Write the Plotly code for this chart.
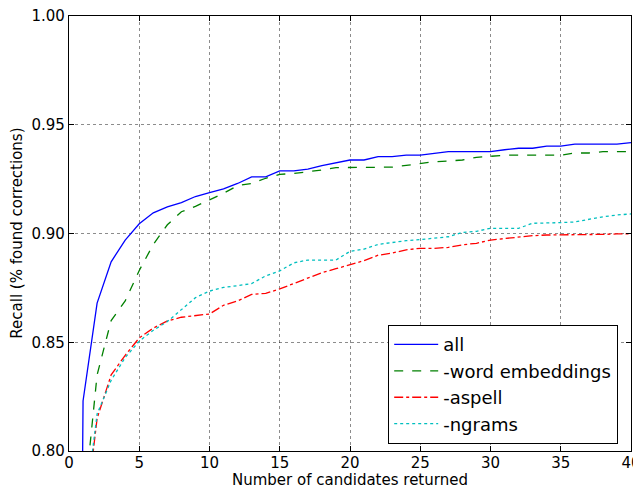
import plotly.graph_objects as go

candidates = list(range(0, 41))

recall_all = [0.0, 0.823, 0.868, 0.887, 0.897, 0.9045, 0.9095, 0.9122, 0.9142, 0.917,
              0.9188, 0.9205, 0.923, 0.926, 0.926, 0.9288, 0.9288, 0.9296, 0.9312, 0.9325,
              0.9338, 0.9338, 0.9353, 0.9353, 0.936, 0.936, 0.9368, 0.9376, 0.9376, 0.9376,
              0.9376, 0.9385, 0.9392, 0.9392, 0.9402, 0.9402, 0.9411, 0.9411, 0.9411, 0.9411,
              0.9418]

recall_no_word_emb = [0.0, 0.771, 0.835, 0.860, 0.869, 0.883, 0.895, 0.904, 0.910, 0.9125,
                      0.9155, 0.9185, 0.922, 0.923, 0.9254, 0.9272, 0.9276, 0.9283, 0.9292, 0.9303,
                      0.9303, 0.9303, 0.9303, 0.9305, 0.9313, 0.9322, 0.933, 0.9333, 0.9338, 0.935,
                      0.9355, 0.936, 0.936, 0.936, 0.936, 0.936, 0.937, 0.937, 0.9376, 0.9376,
                      0.9376]

recall_no_aspell = [0.0, 0.76, 0.815, 0.835, 0.844, 0.852, 0.8565, 0.8598, 0.8615, 0.8622,
                    0.863, 0.867, 0.869, 0.872, 0.8725, 0.8745, 0.877, 0.8795, 0.882, 0.8838,
                    0.8855, 0.8875, 0.89, 0.891, 0.8925, 0.8932, 0.8932, 0.8936, 0.8948, 0.8955,
                    0.897, 0.8976, 0.8985, 0.899, 0.8993, 0.8993, 0.8993, 0.8995, 0.8996, 0.8998,
                    0.8999]

recall_no_ngrams = [0.0, 0.765, 0.817, 0.8325, 0.843, 0.8505, 0.8555, 0.8595, 0.865, 0.8705,
                    0.8735, 0.8752, 0.876, 0.877, 0.8805, 0.8828, 0.8865, 0.8878, 0.8878, 0.8878,
                    0.8918, 0.8928, 0.895, 0.896, 0.8967, 0.8972, 0.898, 0.8985, 0.9005, 0.901,
                    0.9024, 0.9024, 0.9024, 0.9047, 0.9047, 0.905, 0.9053, 0.9065, 0.9077, 0.9085,
                    0.909]

series = [
    ("all", recall_all, "#0000ff", "solid"),
    ("-word embeddings", recall_no_word_emb, "#008000", "dash"),
    ("-aspell", recall_no_aspell, "#ff0000", "dashdot"),
    ("-ngrams", recall_no_ngrams, "#00bfbf", "dot"),
]

x_title = "Number of candidates returned"
y_title = "Recall (% found corrections)"

fig = go.Figure()
for name, vals, color, dash in series:
    fig.add_trace(go.Scatter(
        x=candidates, y=vals, mode="lines", name=name,
        line=dict(color=color, width=1.3, dash=dash),
    ))

axis_common = dict(
    showline=True, linecolor="black", linewidth=1.2, mirror="ticks",
    ticks="inside", ticklen=5, tickcolor="black", tickwidth=1,
    showgrid=True, gridcolor="rgba(0,0,0,0.45)", griddash="dot", gridwidth=1,
    zeroline=False, automargin=False, ticklabeloverflow="allow",
    tickfont=dict(family="DejaVu Sans", size=15, color="black"),
)

fig.update_xaxes(range=[0, 40], tickvals=[0, 5, 10, 15, 20, 25, 30, 35, 40],
                 ticklabelstandoff=-2, **axis_common)
fig.update_yaxes(range=[0.80, 1.00], tickvals=[0.80, 0.85, 0.90, 0.95, 1.00],
                 tickformat=".2f", **axis_common)

title_font = dict(family="DejaVu Sans", size=15, color="black")
fig.add_annotation(text=x_title, xref="paper", yref="paper", x=0.5, y=-0.0665,
                   xanchor="center", yanchor="middle", showarrow=False, font=title_font,
                   borderpad=0)
fig.add_annotation(text=y_title, xref="paper", yref="paper", x=-0.094, y=0.5,
                   xanchor="center", yanchor="middle", showarrow=False, textangle=-90,
                   font=title_font)

fig.update_layout(
    width=633, height=481,
    margin=dict(l=61, r=10, t=8, b=38),
    paper_bgcolor="white", plot_bgcolor="white",
    font=dict(family="DejaVu Sans", color="black"),
    legend=dict(
        x=0.5676, y=0.016, xanchor="left", yanchor="bottom",
        bgcolor="white", bordercolor="black", borderwidth=1.2,
        font=dict(family="DejaVu Sans", size=18, color="black"),
        itemwidth=44, tracegroupgap=0,
    ),
    showlegend=True,
)

fig.write_html("out.html")
